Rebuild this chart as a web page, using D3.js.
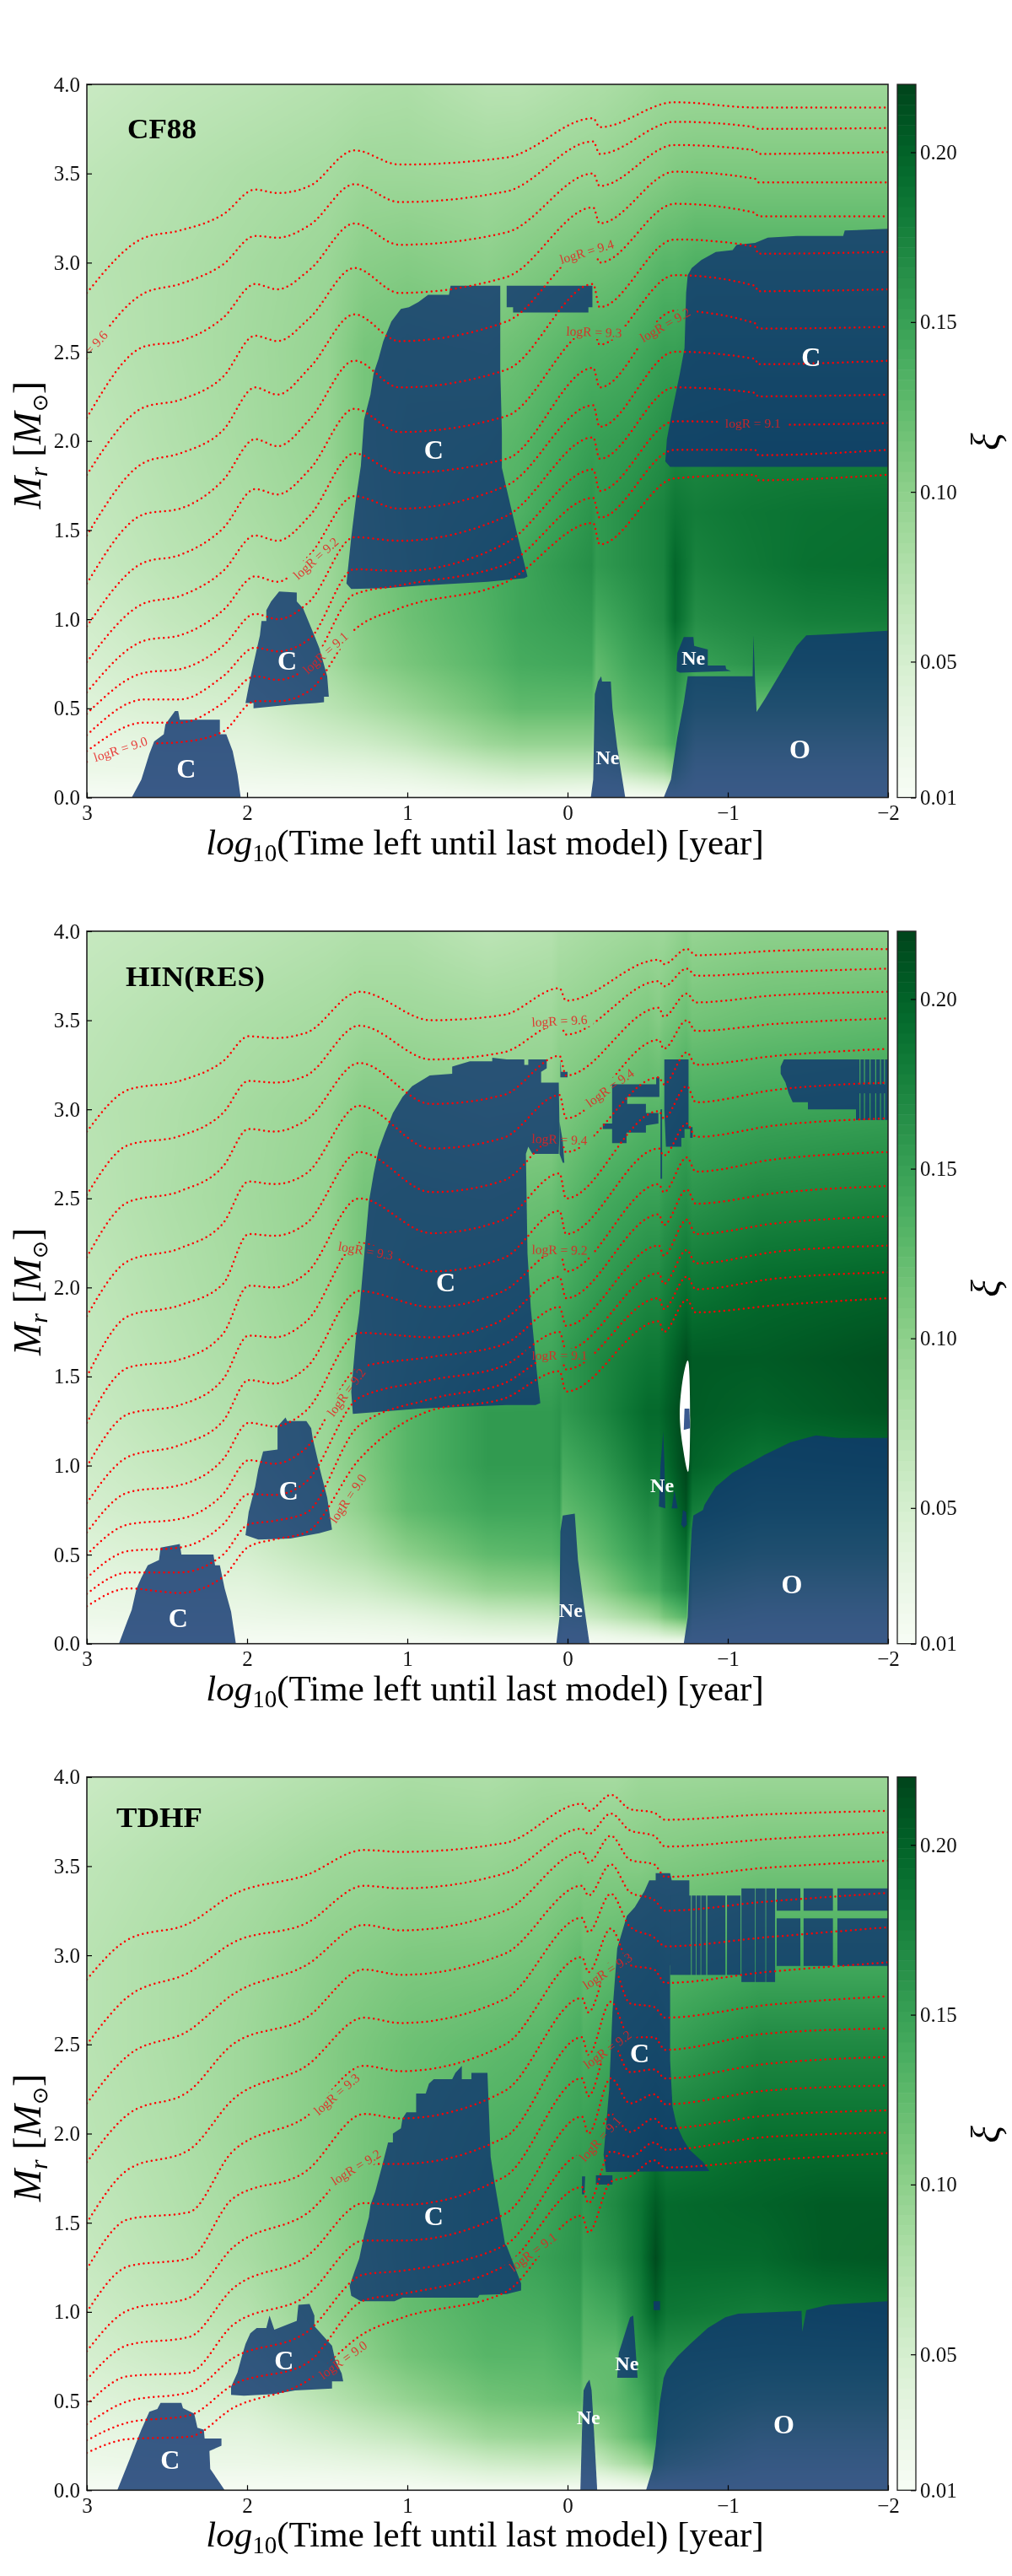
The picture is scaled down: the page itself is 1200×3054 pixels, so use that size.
<!DOCTYPE html>
<html>
<head>
<meta charset="utf-8">
<script src="https://cdn.jsdelivr.net/npm/d3@7"></script>
<style>
html, body { margin: 0; padding: 0; background: #fff; }
#wrap { position: relative; width: 1200px; height: 3054px; }
canvas, svg { position: absolute; left: 0; top: 0; }
text { font-family: "Liberation Serif", serif; }
</style>
</head>
<body>
<div id="wrap"></div>
<script>
// axis ticks
var timeTicks = [3, 2, 1, 0, -1, -2];
var massTicks = [0, 0.5, 1, 1.5, 2, 2.5, 3, 3.5, 4];
var barTicks = [0.01, 0.05, 0.10, 0.15, 0.20];

// rows of the xi grid, same for all three runs
var massRows = [0, 0.05, 0.15, 0.3, 0.5, 0.75, 1, 1.3, 1.6, 2, 2.5, 3, 3.5, 4];

// ---- CF88 ----
var cf88Times = [3, 2.5, 2, 1.5, 1.27, 1, 0.5, 0.3, -0.15, -0.18, -0.4, -0.6, -0.67, -0.8, -1.15, -1.5, -2];
var cf88Xi = [
  [.012,.015,.025,.03,.04,.048,.053,.06,.063,.066,.07,.072,.068,.06],
  [.012,.016,.026,.035,.047,.057,.064,.07,.073,.076,.078,.078,.074,.066],
  [.012,.016,.026,.036,.05,.063,.072,.078,.082,.085,.086,.085,.08,.07],
  [.012,.017,.03,.05,.07,.085,.09,.09,.092,.095,.095,.092,.085,.075],
  [.012,.018,.032,.055,.08,.1,.105,.108,.11,.113,.113,.102,.09,.078],
  [.012,.02,.037,.065,.092,.112,.118,.12,.122,.122,.118,.105,.09,.08],
  [.012,.03,.055,.09,.115,.13,.135,.138,.13,.125,.115,.1,.088,.072],
  [.012,.032,.06,.095,.125,.14,.145,.145,.135,.13,.12,.105,.09,.072],
  [.012,.028,.06,.095,.125,.145,.155,.165,.16,.15,.135,.115,.095,.08],
  [.012,.022,.05,.085,.115,.125,.14,.155,.155,.15,.135,.115,.095,.08],
  [.012,.03,.07,.105,.13,.145,.155,.165,.165,.155,.14,.12,.1,.085],
  [.012,.04,.085,.125,.14,.155,.17,.175,.175,.165,.15,.13,.105,.09],
  [.012,.05,.1,.14,.155,.17,.195,.197,.185,.17,.15,.13,.108,.09],
  [.012,.02,.04,.075,.12,.15,.165,.175,.18,.17,.155,.135,.11,.09],
  [.012,.02,.04,.075,.12,.16,.172,.183,.185,.175,.155,.135,.11,.09],
  [.012,.02,.04,.075,.12,.16,.178,.19,.188,.175,.155,.135,.11,.09],
  [.012,.02,.04,.075,.12,.16,.18,.192,.19,.175,.155,.135,.11,.09]
];
var cf88Knots = [3, 2.64, 2.42, 2.15, 1.95, 1.81, 1.61, 1.33, 1.05, 0.38, -0.16, -0.2, -0.67, -1.17, -1.19, -2];
var cf88Contours = [
  [2.83,3.14,3.18,3.27,3.41,3.39,3.43,3.63,3.55,3.59,3.81,3.76,3.90,3.87,3.87,3.87],
  [2.47,2.83,2.88,2.99,3.15,3.14,3.21,3.44,3.34,3.40,3.68,3.61,3.79,3.76,3.75,3.755],
  [2.13,2.53,2.56,2.69,2.88,2.85,2.96,3.22,3.10,3.17,3.50,3.43,3.66,3.63,3.61,3.62],
  [1.81,2.19,2.23,2.36,2.59,2.56,2.69,2.97,2.83,2.92,3.31,3.22,3.51,3.47,3.45,3.45],
  [1.47,1.88,1.93,2.06,2.30,2.26,2.41,2.71,2.56,2.67,3.09,3.00,3.33,3.28,3.26,3.26],
  [1.20,1.59,1.62,1.78,2.01,1.97,2.12,2.45,2.30,2.40,2.88,2.75,3.13,3.09,3.05,3.06],
  [.96,1.32,1.36,1.51,1.73,1.70,1.84,2.18,2.05,2.14,2.63,2.54,2.93,2.87,2.84,2.85],
  [.76,1.09,1.13,1.27,1.47,1.44,1.58,1.93,1.82,1.90,2.41,2.30,2.73,2.66,2.63,2.64],
  [.59,.88,.91,1.05,1.24,1.21,1.36,1.69,1.62,1.75,2.20,2.08,2.50,2.46,2.43,2.45],
  [.47,.70,.72,.85,1.03,1.00,1.10,1.46,1.44,1.58,2.02,1.90,2.30,2.27,2.25,2.26],
  [.35,.55,.55,.68,.84,.82,.89,1.28,1.27,1.43,1.84,1.72,2.11,2.10,2.09,2.10],
  [.26,.42,.42,.53,.68,.66,.74,1.14,1.19,1.31,1.68,1.57,1.95,1.95,1.92,1.95],
  [.20,.30,.31,.37,.54,.54,.60,.94,1.06,1.21,1.54,1.42,1.79,1.81,1.78,1.81]
];
var cf88Zones = [
  [[2.72,0],[2.66,.10],[2.61,.245],[2.58,.315],[2.52,.355],[2.51,.41],[2.45,.485],[2.43,.485],[2.42,.437],[2.17,.437],[2.17,.355],[2.13,.355],[2.09,.26],[2.06,.13],[2.04,0]],
  [[2.01,.53],[1.96,.53],[1.96,.50],[1.73,.52],[1.57,.53],[1.52,.535],[1.52,.565],[1.49,.565],[1.50,.68],[1.55,.84],[1.59,.93],[1.65,1.06],[1.69,1.10],[1.69,1.15],[1.80,1.155],[1.85,1.10],[1.88,1.05],[1.88,.99],[1.91,.99],[1.92,.91],[1.94,.83],[1.98,.67]],
  [[1.38,1.20],[1.35,1.17],[1.13,1.175],[.9,1.19],[.5,1.21],[.27,1.23],[.25,1.24],[.31,1.46],[.38,1.73],[.41,1.85],[.41,2.05],[.42,2.4],[.42,2.87],[.73,2.87],[.74,2.82],[.87,2.82],[.93,2.78],[.99,2.75],[1.04,2.74],[1.10,2.67],[1.15,2.56],[1.18,2.46],[1.21,2.38],[1.23,2.26],[1.27,2.12],[1.29,1.86],[1.32,1.68],[1.35,1.46]],
  [[.38,2.87],[-.155,2.87],[-.155,2.75],[-.13,2.75],[-.13,2.72],[.34,2.72],[.34,2.75],[.38,2.75]],
  [[-.64,1.855],[-.61,1.885],[-.62,2.01],[-.65,2.155],[-.70,2.375],[-.73,2.52],[-.74,2.83],[-.75,2.93],[-.775,2.97],[-.835,3.015],[-.925,3.06],[-1.03,3.07],[-1.055,3.10],[-1.17,3.11],[-1.25,3.14],[-1.43,3.15],[-1.72,3.15],[-1.73,3.18],[-2,3.19],[-2,1.855]],
  [[-.145,0],[-.16,.10],[-.165,.34],[-.17,.58],[-.19,.65],[-.21,.68],[-.215,.65],[-.27,.65],[-.28,.50],[-.31,.28],[-.36,0]],
  [[-.68,.71],[-.685,.81],[-.725,.90],[-.785,.90],[-.79,.85],[-.875,.83],[-.875,.74],[-.985,.74],[-.99,.72],[-1.02,.71],[-.70,.70]],
  [[-.60,0],[-.645,.10],[-.685,.34],[-.725,.53],[-.75,.68],[-1.155,.68],[-1.16,.91],[-1.17,.66],[-1.18,.48],[-1.23,.55],[-1.33,.70],[-1.43,.85],[-1.49,.91],[-1.63,.915],[-2,.935],[-2,0]]
];
var cf88Blocks = [];
var cf88Labels = [
  [2.79,.27,-18,"logR = 9.0"], [1.51,.81,-42,"logR = 9.1"], [1.57,1.34,-42,"logR = 9.2"], [3,2.49,-48,"logR = 9.6"],
  [-.12,3.06,-17,"logR = 9.4"], [-.165,2.61,2,"logR = 9.3"], [-.61,2.65,-30,"logR = 9.2"], [-1.157,2.10,0,"logR = 9.1"]
];
var cf88Letters = [[2.38,.162,"C"],[1.75,.77,"C"],[.835,1.95,"C"],[-1.52,2.47,"C"],[-.25,.226,"Ne"],[-.785,.785,"Ne"],[-1.45,.27,"O"]];

// ---- HIN(RES) ----
var hinTimes = [3, 2.5, 2, 1.5, 1.27, 1, 0.5, 0.1, 0.05, 0.03, -0.2, -0.5, -0.57, -0.6, -0.74, -0.78, -1.2, -2];
var hinXi = [
  [.012,.015,.024,.03,.04,.05,.055,.06,.063,.066,.07,.072,.068,.062],
  [.012,.016,.026,.035,.047,.057,.064,.07,.073,.076,.079,.078,.074,.066],
  [.012,.016,.026,.036,.05,.063,.072,.078,.082,.085,.087,.086,.08,.07],
  [.012,.017,.03,.05,.07,.085,.092,.092,.093,.096,.096,.093,.085,.075],
  [.012,.018,.032,.055,.08,.1,.107,.11,.112,.115,.114,.105,.09,.078],
  [.012,.02,.037,.068,.1,.125,.13,.13,.125,.123,.118,.105,.09,.078],
  [.012,.03,.055,.095,.125,.145,.155,.155,.14,.13,.115,.1,.088,.07],
  [.012,.032,.06,.1,.13,.145,.155,.155,.145,.135,.12,.102,.09,.075],
  [.012,.032,.065,.105,.135,.15,.16,.16,.15,.14,.125,.11,.095,.08],
  [.012,.02,.05,.08,.105,.125,.14,.155,.155,.14,.125,.11,.095,.08],
  [.012,.025,.065,.1,.125,.14,.155,.17,.17,.155,.14,.12,.1,.085],
  [.012,.04,.09,.135,.155,.17,.185,.195,.185,.17,.15,.13,.11,.09],
  [.012,.045,.1,.14,.155,.165,.185,.195,.185,.17,.15,.13,.105,.09],
  [.012,.05,.11,.15,.165,.175,.19,.2,.19,.175,.155,.135,.11,.09],
  [.012,.06,.13,.17,.19,.21,.22,.22,.215,.19,.165,.145,.12,.1],
  [.012,.03,.06,.1,.14,.18,.2,.205,.205,.185,.16,.14,.115,.095],
  [.012,.02,.04,.075,.12,.16,.185,.2,.205,.195,.17,.145,.12,.1],
  [.012,.02,.04,.075,.12,.16,.19,.21,.213,.2,.175,.15,.125,.1]
];
var hinKnots = [3, 2.74, 2.42, 2.15, 1.99, 1.83, 1.63, 1.30, 0.85, 0.40, 0.05, 0.01, -0.57, -0.60, -0.745, -0.80, -1.3, -2];
var hinContours = [
  [2.875,3.11,3.16,3.27,3.41,3.40,3.43,3.66,3.50,3.53,3.68,3.61,3.84,3.815,3.90,3.865,3.89,3.90],
  [2.52,2.80,2.85,2.98,3.16,3.15,3.19,3.47,3.28,3.32,3.48,3.42,3.72,3.69,3.79,3.75,3.77,3.79],
  [2.17,2.48,2.54,2.68,2.89,2.875,2.94,3.26,3.03,3.08,3.30,3.19,3.57,3.52,3.65,3.60,3.64,3.66],
  [1.84,2.15,2.22,2.36,2.595,2.58,2.64,3.02,2.78,2.84,3.08,2.95,3.39,3.34,3.50,3.44,3.48,3.51],
  [1.50,1.84,1.90,2.02,2.30,2.29,2.36,2.76,2.535,2.60,2.85,2.76,3.18,3.14,3.32,3.25,3.30,3.34],
  [1.24,1.55,1.595,1.74,2.01,2.00,2.08,2.50,2.305,2.38,2.64,2.50,2.99,2.95,3.13,3.04,3.11,3.15],
  [.995,1.29,1.34,1.485,1.73,1.72,1.81,2.25,2.09,2.165,2.43,2.30,2.78,2.74,2.92,2.845,2.91,2.95],
  [.79,1.05,1.115,1.25,1.48,1.46,1.55,1.98,1.89,1.98,2.21,2.09,2.58,2.535,2.73,2.65,2.72,2.76],
  [.625,.85,.89,1.035,1.24,1.22,1.31,1.745,1.72,1.82,2.06,1.94,2.41,2.35,2.55,2.47,2.53,2.57],
  [.50,.67,.70,.84,1.03,1.01,1.10,1.55,1.61,1.68,1.89,1.785,2.235,2.18,2.38,2.30,2.36,2.40],
  [.37,.52,.54,.67,.84,.835,.91,1.38,1.48,1.56,1.75,1.65,2.08,2.02,2.21,2.135,2.20,2.235],
  [.28,.40,.40,.50,.67,.69,.735,1.225,1.375,1.46,1.63,1.54,1.94,1.88,2.06,1.99,2.05,2.085],
  [.21,.31,.285,.375,.545,.585,.625,1.035,1.31,1.375,1.53,1.415,1.81,1.75,1.93,1.86,1.90,1.94]
];
var hinZones = [
  [[2.80,0],[2.75,.12],[2.72,.19],[2.69,.31],[2.66,.37],[2.62,.44],[2.55,.47],[2.54,.54],[2.42,.56],[2.41,.50],[2.21,.50],[2.20,.44],[2.17,.44],[2.14,.31],[2.10,.18],[2.07,0]],
  [[2.01,.61],[1.93,.585],[1.73,.59],[1.55,.62],[1.47,.64],[1.50,.82],[1.54,.96],[1.59,1.15],[1.60,1.21],[1.63,1.25],[1.75,1.25],[1.76,1.27],[1.81,1.22],[1.81,1.09],[1.90,1.08],[1.93,.98],[1.95,.88],[1.99,.74]],
  [[1.34,1.29],[1.35,1.415],[1.32,1.73],[1.30,1.86],[1.27,2.17],[1.24,2.48],[1.21,2.64],[1.18,2.77],[1.14,2.87],[1.09,2.98],[1.03,3.07],[.97,3.13],[.86,3.19],[.72,3.20],[.72,3.24],[.61,3.27],[.47,3.27],[.47,3.29],[.38,3.28],[.27,3.28],[.27,3.25],[.245,3.25],[.245,3.28],[.13,3.28],[.13,3.23],[.165,3.21],[.165,3.15],[.055,3.15],[.05,2.88],[.055,2.75],[.22,2.75],[.245,2.79],[.26,2.75],[.25,2.19],[.23,1.89],[.19,1.51],[.17,1.35],[.20,1.34],[.38,1.34],[.925,1.32]],
  [[.045,3.28],[.04,3.21],[0,3.21],[0,3.18],[.045,3.18]],
  [[.05,2.93],[.03,2.82],[.02,2.70],[.03,2.70],[.05,2.75]],
  [[-.278,3.14],[-.553,3.14],[-.553,3.18],[-.573,3.18],[-.573,3.07],[-.372,3.07],[-.372,3.03],[-.489,3.03],[-.489,2.98],[-.567,2.98],[-.567,2.92],[-.489,2.91],[-.489,2.87],[-.368,2.87],[-.368,2.81],[-.278,2.81],[-.278,2.89],[-.22,2.89],[-.22,2.92],[-.278,2.92]],
  [[-.604,3.28],[-.755,3.28],[-.755,2.90],[-.78,2.90],[-.78,2.84],[-.765,2.84],[-.765,2.89],[-.73,2.89],[-.73,2.84],[-.71,2.84],[-.71,2.79],[-.614,2.79],[-.604,2.99]],
  [[-.58,3.0],[-.59,3.0],[-.59,2.61],[-.58,2.61]],
  [[-1.35,3.28],[-1.33,3.24],[-1.33,3.20],[-1.36,3.15],[-1.38,3.09],[-1.405,3.04],[-1.50,3.04],[-1.50,3.0],[-1.80,3.0],[-1.80,3.28]],
  [[.07,0],[.05,.15],[.045,.63],[.03,.72],[-.045,.73],[-.065,.47],[-.10,.23],[-.137,0]],
  [[-.57,.77],[-.58,1.0],[-.597,1.19],[-.605,1.0],[-.61,.76]],
  [[-.65,.76],[-.667,.86],[-.687,.76]],
  [[-.71,.67],[-.72,.75],[-.74,.74],[-.745,.67],[-.725,.65]],
  [[-.725,0],[-.75,.15],[-.765,.47],[-.775,.64],[-.785,.72],[-.845,.75],[-.855,.78],[-.925,.88],[-1.03,.96],[-1.13,1.01],[-1.23,1.06],[-1.39,1.13],[-1.55,1.17],[-1.69,1.155],[-2,1.155],[-2,0]]
];
var hinBlocks = [
  [-1.80,-1.822,2.94,3.28],[-1.828,-1.85,2.94,3.28],[-1.856,-1.885,2.94,3.28],[-1.891,-1.92,2.94,3.28],
  [-1.926,-1.95,2.94,3.28],[-1.956,-1.975,2.94,3.28],[-1.981,-2,2.94,3.28],[-1.80,-2,3.09,3.14]
];
var hinHole = [[-.755,1.58],[-.72,1.49],[-.70,1.29],[-.72,1.10],[-.755,.97],[-.765,1.26]];
var hinHoleSpot = [[-.73,1.32],[-.76,1.32],[-.765,1.21],[-.725,1.20]];
var hinLabels = [
  [1.26,2.205,10,"logR = 9.3"], [1.38,1.41,-54,"logR = 9.2"], [1.37,.815,-56,"logR = 9.0"], [.05,3.495,-3,"logR = 9.6"],
  [-.265,3.12,-36,"logR = 9.4"], [.05,2.83,2,"logR = 9.4"], [.05,2.21,1,"logR = 9.2"], [.05,1.62,0,"logR = 9.1"]
];
var hinLetters = [[2.43,.145,"C"],[1.74,.86,"C"],[.76,2.03,"C"],[-.02,.19,"Ne"],[-.59,.89,"Ne"],[-1.40,.335,"O"]];

// ---- TDHF ----
var tdhfTimes = [3, 2.5, 2, 1.5, 1, 0.5, 0.15, -0.08, -0.1, -0.3, -0.45, -0.55, -0.62, -1.2, -1.6, -2];
var tdhfXi = [
  [.012,.015,.024,.03,.04,.05,.056,.062,.065,.07,.072,.072,.068,.06],
  [.012,.016,.026,.035,.047,.058,.066,.072,.075,.078,.08,.08,.075,.066],
  [.012,.016,.026,.036,.05,.065,.075,.083,.086,.09,.09,.088,.082,.07],
  [.012,.017,.03,.05,.072,.09,.098,.1,.103,.105,.105,.1,.09,.076],
  [.012,.02,.037,.065,.095,.115,.122,.125,.125,.122,.118,.108,.095,.082],
  [.012,.03,.055,.09,.115,.13,.135,.14,.14,.135,.125,.11,.095,.08],
  [.012,.032,.06,.095,.12,.13,.14,.15,.145,.14,.13,.115,.1,.085],
  [.012,.03,.06,.095,.125,.14,.15,.16,.16,.15,.14,.125,.105,.085],
  [.012,.022,.05,.085,.115,.125,.135,.15,.155,.15,.135,.12,.105,.085],
  [.012,.03,.075,.11,.125,.125,.145,.165,.17,.16,.145,.125,.105,.085],
  [.012,.04,.09,.13,.14,.16,.175,.185,.185,.17,.15,.13,.105,.09],
  [.012,.05,.11,.15,.165,.17,.2,.215,.205,.18,.155,.135,.108,.09],
  [.012,.04,.09,.13,.15,.165,.185,.195,.195,.175,.15,.13,.108,.09],
  [.012,.02,.04,.075,.12,.16,.18,.195,.2,.19,.17,.14,.115,.092],
  [.012,.02,.04,.075,.12,.16,.185,.205,.205,.19,.17,.14,.115,.092],
  [.012,.02,.04,.075,.12,.16,.19,.207,.205,.19,.17,.14,.115,.092]
];
var tdhfKnots = [3, 2.74, 2.36, 2.09, 1.63, 1.27, 1.04, 0.39, -0.09, -0.13, -0.27, -0.39, -0.54, -0.61, -1.23, -2];
var tdhfContours = [
  [2.865,3.09,3.18,3.34,3.45,3.59,3.58,3.63,3.85,3.81,3.90,3.82,3.80,3.76,3.79,3.81],
  [2.50,2.77,2.905,3.07,3.18,3.39,3.375,3.46,3.71,3.68,3.795,3.70,3.67,3.61,3.65,3.69],
  [2.17,2.44,2.58,2.78,2.945,3.17,3.14,3.25,3.58,3.52,3.67,3.535,3.51,3.44,3.49,3.53],
  [1.84,2.11,2.24,2.50,2.65,2.92,2.89,3.01,3.39,3.335,3.51,3.354,3.31,3.25,3.30,3.35],
  [1.50,1.80,1.91,2.19,2.38,2.65,2.62,2.755,3.21,3.13,3.345,3.16,3.10,3.05,3.10,3.157],
  [1.24,1.52,1.56,1.90,2.095,2.38,2.35,2.50,2.99,2.905,3.15,2.945,2.92,2.845,2.905,2.96],
  [1.0,1.256,1.30,1.635,1.79,2.11,2.085,2.24,2.76,2.68,2.96,2.73,2.71,2.65,2.72,2.77],
  [.78,1.01,1.08,1.36,1.55,1.83,1.83,1.98,2.54,2.44,2.74,2.54,2.54,2.47,2.56,2.59],
  [.62,.815,.86,1.13,1.31,1.61,1.60,1.76,2.31,2.21,2.52,2.345,2.36,2.31,2.39,2.43],
  [.48,.64,.66,.925,1.09,1.40,1.40,1.55,2.095,2.0,2.31,2.17,2.22,2.165,2.24,2.27],
  [.37,.50,.55,.74,.885,1.21,1.23,1.375,1.88,1.87,2.11,2.01,2.085,2.03,2.10,2.13],
  [.28,.38,.42,.59,.71,1.065,1.10,1.26,1.70,1.61,1.90,1.87,1.95,1.91,1.98,2.005],
  [.21,.287,.30,.46,.61,.88,.965,1.11,1.54,1.445,1.73,1.76,1.85,1.81,1.85,1.89]
];
var tdhfZones = [
  [[2.81,0],[2.77,.09],[2.73,.18],[2.70,.25],[2.66,.34],[2.61,.44],[2.56,.455],[2.54,.49],[2.41,.49],[2.40,.46],[2.33,.43],[2.31,.35],[2.27,.34],[2.265,.29],[2.16,.29],[2.16,.25],[2.235,.22],[2.23,.12],[2.17,.04],[2.14,0]],
  [[2.10,.535],[2.02,.53],[1.83,.54],[1.70,.56],[1.47,.57],[1.47,.61],[1.40,.61],[1.41,.655],[1.45,.73],[1.47,.81],[1.52,.86],[1.58,.92],[1.58,.98],[1.61,1.045],[1.68,1.04],[1.69,.95],[1.83,.90],[1.86,.98],[1.88,.91],[1.94,.91],[1.98,.88],[2.01,.82],[2.03,.76],[2.06,.66],[2.10,.58]],
  [[1.36,1.146],[1.35,1.09],[1.29,1.06],[1.08,1.06],[1.03,1.08],[.56,1.08],[.55,1.095],[.38,1.10],[.29,1.12],[.29,1.16],[.32,1.23],[.38,1.37],[.39,1.38],[.46,1.75],[.48,1.87],[.50,2.34],[.60,2.34],[.60,2.305],[.66,2.305],[.66,2.38],[.70,2.34],[.72,2.305],[.835,2.305],[.865,2.28],[.885,2.225],[.945,2.225],[.945,2.12],[1.005,2.12],[1.03,2.085],[1.04,2.03],[1.09,2.0],[1.09,1.95],[1.12,1.95],[1.16,1.81],[1.20,1.675],[1.23,1.60],[1.24,1.53],[1.27,1.43],[1.30,1.30],[1.33,1.225]],
  [[-.24,1.785],[-.225,1.88],[-.26,2.25],[-.28,2.68],[-.31,3.04],[-.37,3.22],[-.42,3.27],[-.48,3.36],[-.51,3.42],[-.55,3.42],[-.55,3.46],[-.64,3.46],[-.65,3.42],[-.76,3.42],[-.76,3.335],[-.64,2.94],[-.64,2.41],[-.655,2.15],[-.68,2.05],[-.72,1.97],[-.76,1.91],[-.845,1.84],[-.885,1.79]],
  [[-.177,1.766],[-.28,1.766],[-.28,1.714],[-.177,1.714]],
  [[-.09,1.76],[-.11,1.76],[-.105,1.66],[-.09,1.66]],
  [[-.537,1.06],[-.577,1.06],[-.577,1.01],[-.537,1.01]],
  [[-.08,0],[-.09,.33],[-.10,.56],[-.12,.60],[-.137,.62],[-.15,.56],[-.165,.33],[-.185,0]],
  [[-.31,.63],[-.32,.77],[-.39,.97],[-.41,.98],[-.437,.63]],
  [[-.49,0],[-.53,.12],[-.55,.25],[-.575,.49],[-.60,.63],[-.62,.675],[-.685,.75],[-.765,.82],[-.875,.91],[-.985,.97],[-1.065,.99],[-1.46,1.005],[-1.465,.89],[-1.49,1.01],[-1.63,1.04],[-2,1.06],[-2,0]]
];
var tdhfBlocks = [
  [-.64,-.77,2.89,3.335],[-.775,-.80,2.89,3.335],[-.804,-.83,2.89,3.335],[-.834,-.865,2.89,3.335],
  [-.872,-.985,2.89,3.335],[-.995,-1.08,2.89,3.335],[-1.085,-1.17,2.85,3.375],[-1.174,-1.235,2.85,3.375],
  [-1.239,-1.295,2.85,3.375],[-1.305,-1.453,3.25,3.375],[-1.305,-1.453,2.94,3.207],[-1.473,-1.656,3.25,3.375],
  [-1.473,-1.656,2.94,3.207],[-1.684,-2,3.25,3.375],[-1.684,-2,2.94,3.207]
];
var tdhfLabels = [
  [1.44,2.22,-41,"logR = 9.3"], [1.32,1.81,-32,"logR = 9.2"], [1.40,.73,-36,"logR = 9.0"], [-.25,2.91,-33,"logR = 9.3"],
  [-.25,2.47,-36,"logR = 9.2"], [-.205,1.97,-48,"logR = 9.1"], [.215,1.335,-37,"logR = 9.1"]
];
var tdhfLetters = [[2.48,.17,"C"],[1.77,.73,"C"],[.835,1.54,"C"],[-.45,2.45,"C"],[-.13,.41,"Ne"],[-.37,.71,"Ne"],[-1.35,.37,"O"]];

var panels = [
  { name: "CF88", top: 100, bottom: 945.5, nameX: 151, nameY: 164, nameW: 82, times: cf88Times, xi: cf88Xi, knots: cf88Knots, contours: cf88Contours, zones: cf88Zones, blocks: cf88Blocks, labels: cf88Labels, letters: cf88Letters },
  { name: "HIN(RES)", top: 1104, bottom: 1948.7, nameX: 149, nameY: 1169, nameW: 165, times: hinTimes, xi: hinXi, knots: hinKnots, contours: hinContours, zones: hinZones, blocks: hinBlocks, labels: hinLabels, letters: hinLetters, hole: hinHole, spot: hinHoleSpot },
  { name: "TDHF", top: 2106.7, bottom: 2952.3, nameX: 138, nameY: 2166, nameW: 102, times: tdhfTimes, xi: tdhfXi, knots: tdhfKnots, contours: tdhfContours, zones: tdhfZones, blocks: tdhfBlocks, labels: tdhfLabels, letters: tdhfLetters }
];

var W = 1200, H = 3054;
var plotLeft = 103, plotRight = 1053, barLeft = 1064, barRight = 1086;
var blue = "#10366f";

var wrap = d3.select("#wrap");
var canvas = wrap.append("canvas").attr("width", W).attr("height", H);
var ctx = canvas.node().getContext("2d");
var svg = wrap.append("svg").attr("width", W).attr("height", H);

var colour = d3.scaleSequential(d3.interpolateGreens).domain([0.01, 0.22]);
var lut = d3.range(512).map(function(i) {
  return d3.rgb(colour(0.01 + 0.21 * i / 511));
});

var x = d3.scaleLinear().domain([3, -2]).range([plotLeft, plotRight]);

panels.forEach(function(p, idx) {
  var y = d3.scaleLinear().domain([0, 4]).range([p.bottom, p.top]);

  // xi field
  var colAt = d3.scaleLinear().domain(p.times).range(d3.range(p.times.length)).clamp(true);
  var rowAt = d3.scaleLinear().domain(massRows).range(d3.range(massRows.length)).clamp(true);
  var x0 = plotLeft, y0 = Math.round(p.top);
  var w = plotRight - plotLeft, h = Math.round(p.bottom) - y0;
  var img = ctx.createImageData(w, h);
  var cols = d3.range(w).map(function(i) { return colAt(x.invert(x0 + i + 0.5)); });
  var rows = d3.range(h).map(function(j) { return rowAt(y.invert(y0 + j + 0.5)); });
  for (var j = 0; j < h; j++) {
    var r = rows[j], r0 = Math.min(Math.floor(r), massRows.length - 2), fr = r - r0;
    for (var i = 0; i < w; i++) {
      var c = cols[i], c0 = Math.min(Math.floor(c), p.times.length - 2), fc = c - c0;
      var v = (p.xi[c0][r0] * (1 - fc) + p.xi[c0 + 1][r0] * fc) * (1 - fr) +
              (p.xi[c0][r0 + 1] * (1 - fc) + p.xi[c0 + 1][r0 + 1] * fc) * fr;
      var col = lut[Math.max(0, Math.min(511, Math.round((v - 0.01) / 0.21 * 511)))];
      var k = (j * w + i) * 4;
      img.data[k] = col.r; img.data[k + 1] = col.g; img.data[k + 2] = col.b; img.data[k + 3] = 255;
    }
  }
  ctx.putImageData(img, x0, y0);

  var g = svg.append("g");
  var clipId = "clip" + idx, maskId = "mask" + idx;
  var defs = g.append("defs");
  defs.append("clipPath").attr("id", clipId).append("rect")
    .attr("x", plotLeft).attr("y", p.top).attr("width", w).attr("height", p.bottom - p.top);

  // gaps in the contours where the labels sit
  var mask = defs.append("mask").attr("id", maskId).attr("maskUnits", "userSpaceOnUse")
    .attr("x", 0).attr("y", 0).attr("width", W).attr("height", H);
  mask.append("rect").attr("x", 0).attr("y", 0).attr("width", W).attr("height", H).attr("fill", "#fff");
  mask.selectAll("rect.gap").data(p.labels).enter().append("rect")
    .attr("class", "gap").attr("x", -40).attr("y", -8).attr("width", 80).attr("height", 16).attr("fill", "#000")
    .attr("transform", function(d) { return "translate(" + x(d[0]) + "," + y(d[1]) + ") rotate(" + d[2] + ")"; });

  var area = g.append("g").attr("clip-path", "url(#" + clipId + ")");

  // convective zones, flattened so overlaps do not darken
  var zoneLine = d3.line().x(function(d) { return x(d[0]); }).y(function(d) { return y(d[1]); });
  var zones = area.append("g").attr("opacity", 0.82);
  zones.selectAll("path").data(p.zones).enter().append("path")
    .attr("d", function(d) { return zoneLine(d) + "Z"; })
    .attr("fill", blue);
  zones.selectAll("rect").data(p.blocks).enter().append("rect")
    .attr("x", function(d) { return x(d[0]); })
    .attr("y", function(d) { return y(d[3]); })
    .attr("width", function(d) { return x(d[1]) - x(d[0]); })
    .attr("height", function(d) { return y(d[2]) - y(d[3]); })
    .attr("fill", blue);

  if (p.hole) {
    area.append("path").attr("d", zoneLine.curve(d3.curveCardinalClosed)(p.hole)).attr("fill", "#fff");
    zoneLine.curve(d3.curveLinear);
    area.append("path").attr("d", zoneLine(p.spot) + "Z").attr("fill", "#3a5a90");
  }

  // logR contours
  var contourLine = d3.line()
    .x(function(d, i) { return x(p.knots[i]); })
    .y(function(d) { return y(d); })
    .curve(d3.curveMonotoneX);
  area.append("g").attr("mask", "url(#" + maskId + ")")
    .selectAll("path").data(p.contours).enter().append("path")
    .attr("d", contourLine)
    .attr("fill", "none")
    .attr("stroke", "#ff0000")
    .attr("stroke-width", 2.5)
    .attr("stroke-linecap", "round")
    .attr("stroke-dasharray", "0 5.8");

  area.selectAll("text.lab").data(p.labels).enter().append("text")
    .attr("class", "lab")
    .attr("text-anchor", "middle")
    .attr("dy", "0.32em")
    .attr("font-size", 15.5)
    .attr("fill", "#e8201f")
    .attr("fill-opacity", 0.85)
    .attr("transform", function(d) { return "translate(" + x(d[0]) + "," + y(d[1]) + ") rotate(" + d[2] + ")"; })
    .text(function(d) { return d[3]; });

  area.selectAll("text.let").data(p.letters).enter().append("text")
    .attr("class", "let")
    .attr("x", function(d) { return x(d[0]); })
    .attr("y", function(d) { return y(d[1]); })
    .attr("text-anchor", "middle")
    .attr("dy", "0.34em")
    .attr("font-size", function(d) { return d[2] === "Ne" ? 24 : 32; })
    .attr("font-weight", "bold")
    .attr("fill", "#fff")
    .text(function(d) { return d[2]; });

  g.append("text").attr("x", p.nameX).attr("y", p.nameY)
    .attr("font-size", 33).attr("font-weight", "bold").attr("fill", "#000")
    .attr("textLength", p.nameW).attr("lengthAdjust", "spacingAndGlyphs")
    .text(p.name);

  // frame and axes
  g.append("rect").attr("x", plotLeft).attr("y", p.top).attr("width", w).attr("height", p.bottom - p.top)
    .attr("fill", "none").attr("stroke", "#222").attr("stroke-width", 1.6);

  var xAxis = g.append("g").attr("transform", "translate(0," + p.bottom + ")")
    .call(d3.axisBottom(x).tickValues(timeTicks).tickSize(-6).tickPadding(9)
      .tickFormat(function(d) { return d < 0 ? "\u2212" + (-d) : d; }));
  var yAxis = g.append("g").attr("transform", "translate(" + plotLeft + ",0)")
    .call(d3.axisLeft(y).tickValues(massTicks).tickSize(-6).tickPadding(8).tickFormat(d3.format(".1f")));
  [xAxis, yAxis].forEach(function(a) {
    a.select(".domain").remove();
    a.selectAll("line").attr("stroke", "#000").attr("stroke-width", 1.2);
    a.selectAll("text").attr("font-family", "Liberation Serif").attr("font-size", 25).attr("fill", "#111");
  });

  var xt = g.append("text").attr("x", (plotLeft + plotRight) / 2 - 3).attr("y", p.bottom + 67)
    .attr("text-anchor", "middle").attr("font-size", 43).attr("fill", "#000");
  xt.append("tspan").attr("font-style", "italic").text("log");
  xt.append("tspan").attr("font-size", 29).attr("dy", 8).text("10");
  xt.append("tspan").attr("dy", -8).text("(Time left until last model) [year]");

  var yt = g.append("text")
    .attr("transform", "translate(48," + ((p.top + p.bottom) / 2 + 5) + ") rotate(-90)")
    .attr("text-anchor", "middle").attr("font-size", 46).attr("fill", "#000");
  yt.append("tspan").attr("font-style", "italic").text("M");
  yt.append("tspan").attr("font-style", "italic").attr("font-size", 30).attr("dy", 8).text("r");
  yt.append("tspan").attr("dy", -8).text(" [");
  yt.append("tspan").attr("font-style", "italic").text("M");
  yt.append("tspan").attr("font-size", 25).attr("dy", 8).text("\u2299");
  yt.append("tspan").attr("dy", -8).text("]");

  // colour bar
  var bar = d3.scaleLinear().domain([0.01, 0.22]).range([p.bottom, p.top]);
  var steps = d3.range(0, 70);
  g.selectAll("rect.step").data(steps).enter().append("rect")
    .attr("class", "step")
    .attr("x", barLeft).attr("width", barRight - barLeft)
    .attr("y", function(d) { return bar(0.01 + 0.21 * (d + 1) / 70); })
    .attr("height", (p.bottom - p.top) / 70 + 0.5)
    .attr("fill", function(d) { return colour(0.01 + 0.21 * (d + 0.5) / 70); });
  g.append("rect").attr("x", barLeft).attr("y", p.top).attr("width", barRight - barLeft).attr("height", p.bottom - p.top)
    .attr("fill", "none").attr("stroke", "#222").attr("stroke-width", 1.3);
  var barAxis = g.append("g").attr("transform", "translate(" + barRight + ",0)")
    .call(d3.axisRight(bar).tickValues(barTicks).tickSize(-6).tickPadding(5).tickFormat(d3.format(".2f")));
  barAxis.select(".domain").remove();
  barAxis.selectAll("line").attr("stroke", "#000").attr("stroke-width", 1.2);
  barAxis.selectAll("text").attr("font-family", "Liberation Serif").attr("font-size", 25).attr("fill", "#111");

  g.append("text")
    .attr("transform", "translate(1185," + ((p.top + p.bottom) / 2 + 1) + ") rotate(-90)")
    .attr("text-anchor", "middle").attr("font-size", 48).attr("font-style", "italic").attr("fill", "#000")
    .text("\u03BE");
});
</script>
</body>
</html>
